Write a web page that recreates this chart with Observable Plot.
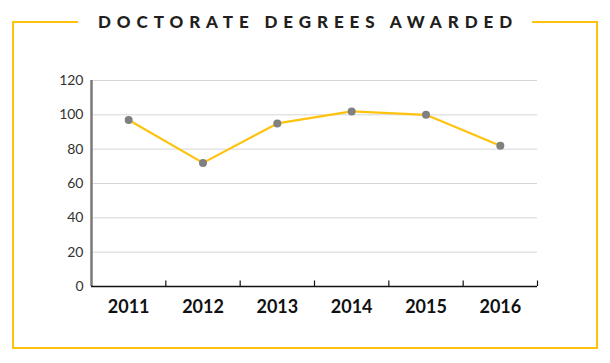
<!DOCTYPE html>
<html>
<head>
<meta charset="utf-8">
<script src="https://cdn.jsdelivr.net/npm/d3@7"></script>
<script src="https://cdn.jsdelivr.net/npm/@observablehq/plot@0.6"></script>
<style>
  html, body { margin: 0; padding: 0; background: #fff; }
  #wrap { position: relative; width: 610px; height: 363px; overflow: hidden; }
  #frame { position: absolute; left: 12px; top: 21px; width: 586px; height: 328px; box-sizing: border-box; border: 2px solid #FFC20E; pointer-events: none; }
  #title { position: absolute; left: 0; width: 610px; top: 12px; text-align: center; pointer-events: none; }
  #title span { display: inline-block; background: #fff; padding: 0 14px 0 20px; font-family: Lato, sans-serif; font-weight: 900; font-size: 17px; line-height: 20px; letter-spacing: 5.9px; color: #231f20; }
  #chart { position: absolute; left: 0; top: 0; }
</style>
</head>
<body>
<div id="wrap">
  <div id="chart"></div>
  <div id="frame"></div>
  <div id="title"><span>DOCTORATE DEGREES AWARDED</span></div>
</div>
<script>
const years = [2011, 2012, 2013, 2014, 2015, 2016];
const degrees = [97, 72, 95, 102, 100, 82];
const yTicks = [0, 20, 40, 60, 80, 100, 120];
const titleText = "DOCTORATE DEGREES AWARDED";

const data = years.map((year, i) => ({year, value: degrees[i]}));
const xDomain = [years[0] - 0.5, years[years.length - 1] + 0.5];
const boundaries = years.map(y => y + 0.5);

const chart = Plot.plot({
  width: 610,
  height: 363,
  marginLeft: 91,
  marginRight: 73,
  marginTop: 80,
  marginBottom: 77,
  style: {fontFamily: "Lato, sans-serif", background: "transparent"},
  x: {type: "linear", domain: xDomain},
  y: {domain: [0, 120]},
  marks: [
    Plot.gridY(yTicks.slice(1), {stroke: "#d6d6d6", strokeOpacity: 1, strokeWidth: 1}),
    Plot.axisY(yTicks, {tickSize: 0, tickPadding: 8, fontSize: 14, fill: "#333", label: null}),
    Plot.ruleX([xDomain[0]], {stroke: "#7a7a7a", strokeWidth: 2.5}),
    Plot.ruleX(boundaries, {y1: 0, y2: 3.2, stroke: "#111", strokeWidth: 1.2}),
    Plot.ruleY([0], {stroke: "#111", strokeWidth: 1.6}),
    Plot.line(data, {x: "year", y: "value", stroke: "#FFC20E", strokeWidth: 2.2}),
    Plot.dot(data, {x: "year", y: "value", r: 4, fill: "#808080", stroke: "none"}),
    Plot.axisX(years, {tickSize: 0, tickPadding: 14, fontSize: 18, fontWeight: "bold", fill: "#111", tickFormat: d => String(d), label: null})
  ]
});
document.getElementById("chart").appendChild(chart);
document.querySelector("#title span").textContent = titleText;
</script>
</body>
</html>
